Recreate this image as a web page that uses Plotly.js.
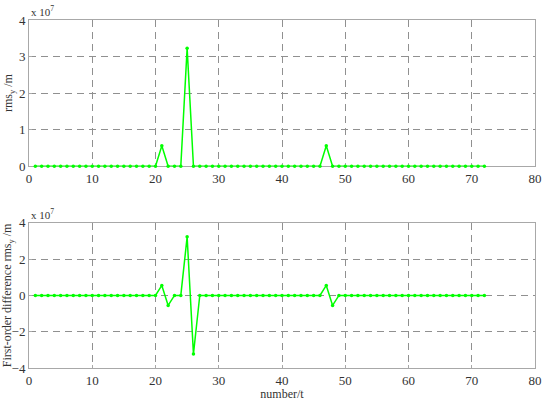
<!DOCTYPE html>
<html>
<head>
<meta charset="utf-8">
<script src="https://cdn.plot.ly/plotly-3.0.1.min.js"></script>
<style>
  html, body { margin: 0; padding: 0; background: #fff; }
  #plotArea { width: 550px; height: 401px; }
</style>
</head>
<body>
<div id="plotArea"></div>
<script>
// sample number t = 1..72
var numberT = [];
for (var i = 1; i <= 72; i++) numberT.push(i);

// rms_y /m, in units of 1e7
var rmsY = [
  0, 0, 0, 0, 0, 0, 0, 0, 0, 0,
  0, 0, 0, 0, 0, 0, 0, 0, 0, 0,
  0.56, 0, 0, 0, 3.23, 0, 0, 0, 0, 0,
  0, 0, 0, 0, 0, 0, 0, 0, 0, 0,
  0, 0, 0, 0, 0, 0, 0.56, 0, 0, 0,
  0, 0, 0, 0, 0, 0, 0, 0, 0, 0,
  0, 0, 0, 0, 0, 0, 0, 0, 0, 0,
  0, 0
];

// first-order difference of rms_y /m, in units of 1e7 (bottom panel)
var diffRmsY = [
  0, 0, 0, 0, 0, 0, 0, 0, 0, 0,
  0, 0, 0, 0, 0, 0, 0, 0, 0, 0,
  0.55, -0.55, 0, 0, 3.23, -3.23, 0, 0, 0, 0,
  0, 0, 0, 0, 0, 0, 0, 0, 0, 0,
  0, 0, 0, 0, 0, 0, 0.55, -0.55, 0, 0,
  0, 0, 0, 0, 0, 0, 0, 0, 0, 0,
  0, 0, 0, 0, 0, 0, 0, 0, 0, 0,
  0, 0
];

var xTicks = [0, 10, 20, 30, 40, 50, 60, 70, 80];
var topTicks = [0, 1, 2, 3, 4];
var bottomTicks = [-4, -2, 0, 2, 4];

var green = "#00ff00";
var serif = "Liberation Serif, Times New Roman, serif";

var trace1 = {
    x: numberT, y: rmsY,
    type: "scatter", mode: "lines+markers", cliponaxis: false,
    line: {color: green, width: 1.5},
    marker: {color: green, size: 3.5},
    xaxis: "x", yaxis: "y"
};
var trace2 = {
    x: numberT, y: diffRmsY,
    type: "scatter", mode: "lines+markers", cliponaxis: false,
    line: {color: green, width: 1.5},
    marker: {color: green, size: 3.5},
    xaxis: "x2", yaxis: "y2"
};

// shared look of the MATLAB-style boxed axes
function axisStyle(a) {
    a.showgrid = true;
    a.gridcolor = "#909090";
    a.griddash = "7px,5px";
    a.gridwidth = 1;
    a.zeroline = false;
    a.showline = true;
    a.linecolor = "#a8a8a8";
    a.linewidth = 1;
    a.mirror = true;
    a.layer = "below traces";
    a.ticks = "inside";
    a.ticklen = 3;
    a.tickcolor = "#a8a8a8";
    a.tickfont = {family: serif, size: 13, color: "#333"};
    return a;
}

var layout = {
    width: 550, height: 401,
    paper_bgcolor: "#fff", plot_bgcolor: "#fff",
    showlegend: false,
    margin: {l: 29, r: 15, t: 20, b: 33},
    xaxis: axisStyle({anchor: "y", range: [0, 80], tickvals: xTicks}),
    yaxis: axisStyle({anchor: "x", domain: [0.58, 1], range: [0, 4], tickvals: topTicks,
        title: {text: "rms<sub>y</sub> /m", font: {family: serif, size: 12, color: "#333"}, standoff: 3}}),
    xaxis2: axisStyle({anchor: "y2", range: [0, 80], tickvals: xTicks,
        title: {text: "number/t", font: {family: serif, size: 12, color: "#333"}, standoff: 2}}),
    yaxis2: axisStyle({anchor: "x2", domain: [0, 0.417], range: [-4, 4], tickvals: bottomTicks,
        title: {text: "First-order difference rms<sub>y</sub> /m", font: {family: serif, size: 12, color: "#333"}, standoff: 3}}),
    annotations: [
        {text: "x 10<sup>7</sup>", xref: "paper", yref: "paper", x: 0, y: 1,
         xanchor: "left", yanchor: "bottom", showarrow: false,
         font: {family: serif, size: 11, color: "#333"}},
        {text: "x 10<sup>7</sup>", xref: "paper", yref: "paper", x: 0, y: 0.417,
         xanchor: "left", yanchor: "bottom", showarrow: false,
         font: {family: serif, size: 11, color: "#333"}}
    ]
};

Plotly.newPlot("plotArea", [trace1, trace2], layout, {displayModeBar: false});
</script>
</body>
</html>
